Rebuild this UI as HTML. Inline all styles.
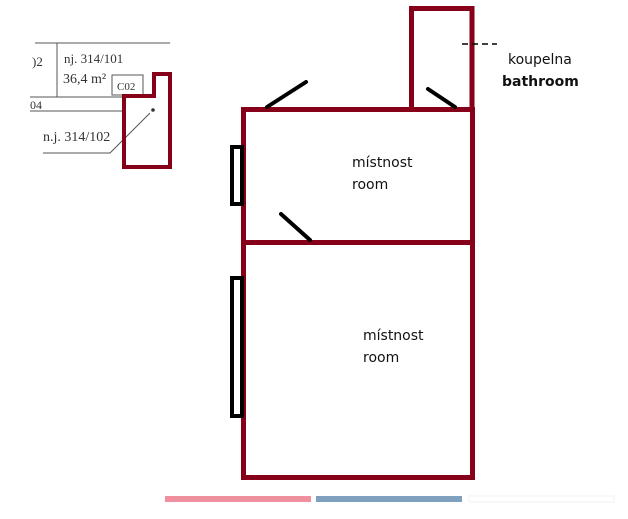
<!DOCTYPE html>
<html><head><meta charset="utf-8"><style>
html,body{margin:0;padding:0;background:#fff;width:628px;height:519px;overflow:hidden}
svg{display:block}
</style></head><body>
<svg width="628" height="519" viewBox="0 0 628 519" xmlns="http://www.w3.org/2000/svg">
<!-- inset -->
<g stroke="#555" stroke-width="1" fill="none">
<line x1="35" y1="43" x2="170" y2="43"/>
<line x1="57" y1="43" x2="57" y2="97"/>
<line x1="30" y1="97" x2="124" y2="97"/>
<line x1="30" y1="111" x2="124" y2="111"/>
<rect x="112" y="75" width="31" height="20"/>
<polyline points="43,153 110,153 120,143 150,113"/>
</g>
<circle cx="153" cy="110" r="1.8" fill="#333"/>
<g font-family="Liberation Serif, serif" fill="#333">
<text x="32" y="66" font-size="13">)2</text>
<text x="64" y="63" font-size="13">nj. 314/101</text>
<text x="63" y="83" font-size="14">36,4 m²</text>
<text x="117" y="90" font-size="11">C02</text>
<text x="30" y="109" font-size="12">04</text>
<text x="43" y="141" font-size="14">n.j. 314/102</text>
</g>
<polygon points="124,96 154,96 154,74 170,74 170,167 124,167" fill="none" stroke="#86001a" stroke-width="4"/>
<!-- main plan -->
<g fill="none" stroke="#86001a" stroke-width="5">
<rect x="411.5" y="8.5" width="60.5" height="101"/>
<rect x="243.5" y="109.5" width="229" height="368"/>
<line x1="243" y1="242.5" x2="472" y2="242.5"/>
</g>
<g fill="#fff" stroke="#000" stroke-width="4">
<rect x="232" y="147" width="10" height="57"/>
<rect x="232" y="278" width="10" height="138"/>
</g>
<g stroke="#000" stroke-width="4" stroke-linecap="round">
<line x1="267" y1="107" x2="306" y2="82"/>
<line x1="428" y1="89" x2="455" y2="107"/>
<line x1="281" y1="214" x2="310" y2="240"/>
</g>
<line x1="462" y1="44" x2="497" y2="44" stroke="#000" stroke-width="1.5" stroke-dasharray="6,4"/>
<g font-family="DejaVu Sans, Liberation Sans, sans-serif" font-size="14" fill="#111">
<text x="508" y="64">koupelna</text>
<text x="502" y="86" font-weight="bold">bathroom</text>
<text x="352" y="167">místnost</text>
<text x="352" y="189">room</text>
<text x="363" y="340">místnost</text>
<text x="363" y="362">room</text>
</g>
<rect x="165" y="496" width="146" height="6" fill="#f0909f"/>
<rect x="316" y="496" width="146" height="6" fill="#80a0bf"/>
<rect x="469" y="496" width="145" height="6" fill="#fff" stroke="#f2f2f2"/>
</svg>
</body></html>
